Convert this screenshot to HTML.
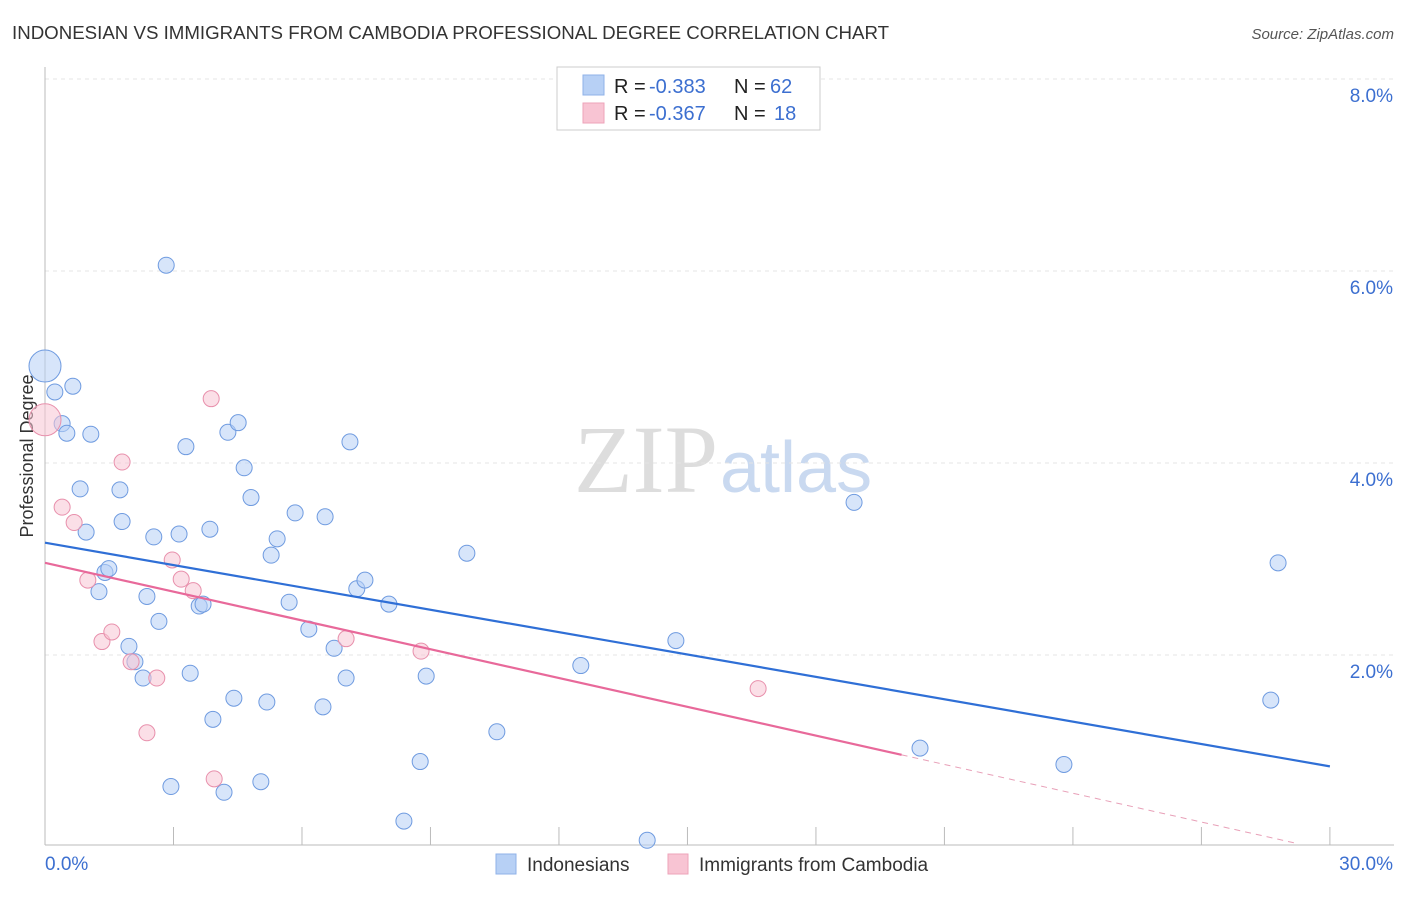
<!DOCTYPE html>
<html><head><meta charset="utf-8"><style>
body{margin:0;background:#fff;font-family:"Liberation Sans",sans-serif;}
</style></head><body>
<svg id="c" width="1406" height="892" xmlns="http://www.w3.org/2000/svg" font-family="Liberation Sans, sans-serif">
<text x="12" y="39" font-size="18.7" fill="#333">INDONESIAN VS IMMIGRANTS FROM CAMBODIA PROFESSIONAL DEGREE CORRELATION CHART</text>
<text x="1394" y="39" font-size="15" fill="#555" font-style="italic" text-anchor="end">Source: ZipAtlas.com</text>
<text x="718" y="492" font-size="96" fill="#ddd" text-anchor="end" font-family="Liberation Serif, serif">ZIP</text>
<text x="720" y="492" font-size="72" fill="#c9d9f0">atlas</text>
<text transform="translate(33,456) rotate(-90)" font-size="18" fill="#333" text-anchor="middle">Professional Degree</text>
<g id="grid"></g><g id="ax"></g><g id="marks"></g>
<g>
<rect x="557" y="67" width="263" height="63" fill="#fff" stroke="#ccc"/>
<rect x="583" y="75" width="21" height="20" fill="#b7d0f5" stroke="#8fb2e8"/>
<rect x="583" y="103" width="21" height="20" fill="#f8c4d3" stroke="#eea3ba"/>
<text x="614" y="93" font-size="20" fill="#222">R =</text>
<text x="649" y="93" font-size="20" fill="#3c6fd0">-0.383</text>
<text x="734" y="93" font-size="20" fill="#222">N =</text>
<text x="770" y="93" font-size="20" fill="#3c6fd0">62</text>
<text x="614" y="120" font-size="20" fill="#222">R =</text>
<text x="649" y="120" font-size="20" fill="#3c6fd0">-0.367</text>
<text x="734" y="120" font-size="20" fill="#222">N =</text>
<text x="774" y="120" font-size="20" fill="#3c6fd0">18</text>
</g>
<g>
<rect x="496" y="854" width="20" height="20" fill="#b7d0f5" stroke="#8fb2e8"/>
<text x="527" y="871" font-size="19" fill="#333">Indonesians</text>
<rect x="668" y="854" width="20" height="20" fill="#f8c4d3" stroke="#eea3ba"/>
<text x="699" y="871" font-size="19" fill="#333">Immigrants from Cambodia</text>
</g>
</svg>
<script>
const blueX=[0,0.23,0.65,0.40,0.51,1.07,0.82,0.96,1.75,1.80,1.26,1.40,1.49,2.38,2.54,2.66,1.96,2.10,2.29,2.83,3.29,3.13,3.60,3.69,3.39,3.85,4.27,4.51,4.65,4.81,5.42,5.28,5.84,5.70,3.92,4.41,5.18,2.94,4.18,5.04,6.16,6.54,7.12,6.75,7.28,7.47,7.03,6.49,8.03,8.90,8.76,8.38,9.85,10.55,12.51,14.06,14.73,18.89,20.43,23.79,28.79,28.62];
const blueY=[5.01,4.74,4.80,4.41,4.31,4.30,3.73,3.28,3.72,3.39,2.66,2.86,2.90,2.61,3.23,2.35,2.09,1.93,1.76,6.06,4.17,3.26,2.51,2.53,1.81,3.31,4.32,4.42,3.95,3.64,3.21,3.04,3.48,2.55,1.33,1.55,1.51,0.63,0.57,0.68,2.27,3.44,4.22,2.07,2.69,2.78,1.76,1.46,2.53,1.78,0.89,0.27,3.06,1.20,1.89,0.07,2.15,3.59,1.03,0.86,2.96,1.53];
const pinkX=[0,0.40,0.68,1.00,1.33,1.56,1.80,2.01,2.38,2.61,2.97,3.18,3.46,3.88,3.95,7.03,8.78,16.65];
const pinkY=[4.45,3.54,3.38,2.78,2.14,2.24,4.01,1.93,1.19,1.76,2.99,2.79,2.67,4.67,0.71,2.17,2.04,1.65];
const yTicks=[2,4,6,8];
const yTickLabels=["2.0%","4.0%","6.0%","8.0%"];
const xTicks=[0,3,6,9,12,15,18,21,24,27,30];
const blueTrend=[[0,3.17],[30,0.84]];
const pinkTrend=[[0,2.96],[20,0.96]];
const pinkDash=[[20,0.96],[29.2,0.04]];
const X=v=>45+v*42.83, Y=v=>847-v*96;
const NS="http://www.w3.org/2000/svg";
function mk(p,t,a){const e=document.createElementNS(NS,t);for(const k in a)e.setAttribute(k,a[k]);document.getElementById(p).appendChild(e);return e;}
yTicks.forEach((t,i)=>{
 let l=mk('grid','line',{x1:45,x2:1394,y1:Y(t),y2:Y(t),stroke:'#e4e4e4','stroke-dasharray':'4,4'});
 
 
 let tx=mk('ax','text',{x:1393,y:Y(t)+23,'font-size':19,fill:'#3c6fd0','text-anchor':'end'});tx.textContent=yTickLabels[i];
 
 
});
let topLine=mk('grid','line',{x1:45,x2:1394,y1:79,y2:79,stroke:'#e4e4e4','stroke-dasharray':'4,4'});


let ya=mk('ax','line',{x1:45,x2:45,y1:67,y2:845,stroke:'#bbb'});


let xa=mk('ax','line',{x1:45,x2:1394,y1:845,y2:845,stroke:'#bbb'});


xTicks.forEach(t=>{let l=mk('ax','line',{x1:X(t),x2:X(t),y1:827,y2:845,stroke:'#bbb'});
 
 });
let xl0=mk('ax','text',{x:45,y:870,'font-size':19,fill:'#3c6fd0'});xl0.textContent='0.0%';


let xl1=mk('ax','text',{x:1393,y:870,'font-size':19,fill:'#3c6fd0','text-anchor':'end'});xl1.textContent='30.0%';


function dots(xs,ys,fill,stroke,name){xs.forEach((x,i)=>{const big=(x===0);
 let c=mk('marks','circle',{cx:X(x),cy:Y(ys[i]),r:big?16:8,fill:fill,'fill-opacity':0.55,stroke:stroke,'stroke-width':1});
 
 });}
dots(blueX,blueY,'#b7d0f5','#6f9be0','indonesian-point');
dots(pinkX,pinkY,'#f8c4d3','#e890ac','cambodia-point');
let bl=mk('marks','line',{x1:X(blueTrend[0][0]),y1:Y(blueTrend[0][1]),x2:X(blueTrend[1][0]),y2:Y(blueTrend[1][1]),stroke:'#2f6fd6','stroke-width':2.2});


let pl=mk('marks','line',{x1:X(pinkTrend[0][0]),y1:Y(pinkTrend[0][1]),x2:X(pinkTrend[1][0]),y2:Y(pinkTrend[1][1]),stroke:'#e8699a','stroke-width':2.2});


let pd=mk('marks','line',{x1:X(pinkDash[0][0]),y1:Y(pinkDash[0][1]),x2:X(pinkDash[1][0]),y2:Y(pinkDash[1][1]),stroke:'#e8a0b8','stroke-width':1,'stroke-dasharray':'6,5'});


</script>
</body></html>
